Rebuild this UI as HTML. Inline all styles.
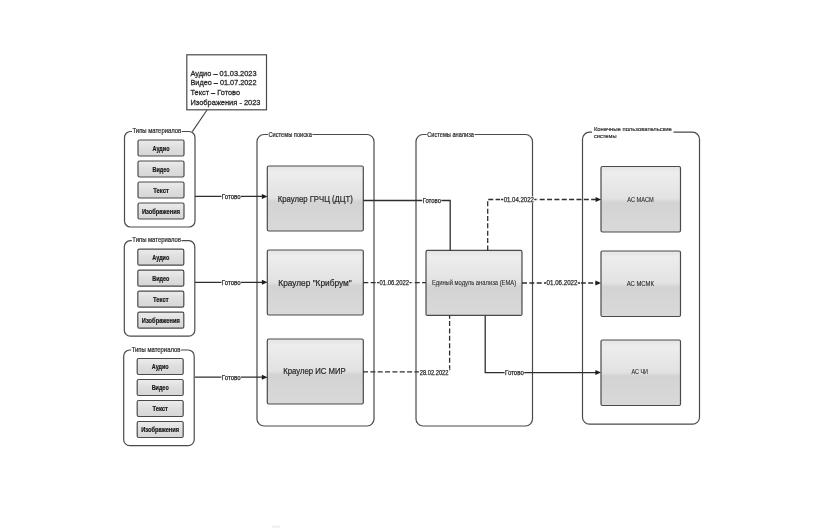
<!DOCTYPE html>
<html><head><meta charset="utf-8"><style>
html,body{margin:0;padding:0;background:#fff;width:830px;height:532px;overflow:hidden}
svg{display:block;font-family:"Liberation Sans", sans-serif;will-change:transform}
</style></head><body>
<svg width="830" height="532" viewBox="0 0 830 532">
<defs>
<linearGradient id="gb" x1="0" y1="0" x2="0" y2="1">
<stop offset="0" stop-color="#e4e4e4"/>
<stop offset="0.1" stop-color="#ededed"/>
<stop offset="0.49" stop-color="#e2e2e2"/>
<stop offset="0.55" stop-color="#d3d3d3"/>
<stop offset="1" stop-color="#d9d9d9"/>
</linearGradient>
<linearGradient id="gs" x1="0" y1="0" x2="0" y2="1">
<stop offset="0" stop-color="#ececec"/>
<stop offset="0.5" stop-color="#dedede"/>
<stop offset="1" stop-color="#d6d6d6"/>
</linearGradient>
</defs>
<rect x="186.8" y="54.8" width="79.7" height="55" rx="0" fill="#fff" stroke="#4a4a4a" stroke-width="1.2"/>
<text x="190.5" y="73.1" font-size="8.0" text-anchor="start" font-weight="normal" fill="#2a2a2a" stroke="#2a2a2a" stroke-width="0.3" dominant-baseline="central" textLength="66" lengthAdjust="spacingAndGlyphs">Аудио – 01.03.2023</text>
<text x="190.5" y="82.85" font-size="8.0" text-anchor="start" font-weight="normal" fill="#2a2a2a" stroke="#2a2a2a" stroke-width="0.3" dominant-baseline="central" textLength="66" lengthAdjust="spacingAndGlyphs">Видео – 01.07.2022</text>
<text x="190.5" y="92.6" font-size="8.0" text-anchor="start" font-weight="normal" fill="#2a2a2a" stroke="#2a2a2a" stroke-width="0.3" dominant-baseline="central" textLength="49.5" lengthAdjust="spacingAndGlyphs">Текст – Готово</text>
<text x="190.5" y="102.35" font-size="8.0" text-anchor="start" font-weight="normal" fill="#2a2a2a" stroke="#2a2a2a" stroke-width="0.3" dominant-baseline="central" textLength="70" lengthAdjust="spacingAndGlyphs">Изображения - 2023</text>
<path d="M207,110 L192.3,131.6" fill="none" stroke="#444" stroke-width="1.1"/>
<rect x="124.5" y="131.5" width="70.5" height="95.5" rx="6" fill="#fff" stroke="#4a4a4a" stroke-width="1.2"/>
<rect x="132.0" y="127.02499999999999" width="49.7" height="7.15" fill="#fff"/>
<text x="132.5" y="130.6" font-size="6.5" text-anchor="start" font-weight="normal" fill="#2a2a2a" stroke="#2a2a2a" stroke-width="0.2" dominant-baseline="central" textLength="48.7" lengthAdjust="spacingAndGlyphs">Типы материалов</text>
<rect x="138.0" y="140.0" width="46" height="16" rx="1.5" fill="url(#gs)" stroke="#4a4a4a" stroke-width="1.2"/>
<text x="161.0" y="148.2" font-size="6.3" text-anchor="middle" font-weight="bold" fill="#1a1a1a" stroke="#1a1a1a" stroke-width="0.2" dominant-baseline="central" textLength="17" lengthAdjust="spacingAndGlyphs">Аудио</text>
<rect x="138.0" y="161.0" width="46" height="16" rx="1.5" fill="url(#gs)" stroke="#4a4a4a" stroke-width="1.2"/>
<text x="161.0" y="169.2" font-size="6.3" text-anchor="middle" font-weight="bold" fill="#1a1a1a" stroke="#1a1a1a" stroke-width="0.2" dominant-baseline="central" textLength="17" lengthAdjust="spacingAndGlyphs">Видео</text>
<rect x="138.0" y="182.0" width="46" height="16" rx="1.5" fill="url(#gs)" stroke="#4a4a4a" stroke-width="1.2"/>
<text x="161.0" y="190.2" font-size="6.3" text-anchor="middle" font-weight="bold" fill="#1a1a1a" stroke="#1a1a1a" stroke-width="0.2" dominant-baseline="central" textLength="15.5" lengthAdjust="spacingAndGlyphs">Текст</text>
<rect x="138.0" y="203.0" width="46" height="16" rx="1.5" fill="url(#gs)" stroke="#4a4a4a" stroke-width="1.2"/>
<text x="161.0" y="211.2" font-size="6.3" text-anchor="middle" font-weight="bold" fill="#1a1a1a" stroke="#1a1a1a" stroke-width="0.2" dominant-baseline="central" textLength="38" lengthAdjust="spacingAndGlyphs">Изображения</text>
<rect x="124.3" y="240.7" width="70.5" height="95.5" rx="6" fill="#fff" stroke="#4a4a4a" stroke-width="1.2"/>
<rect x="131.8" y="236.225" width="49.7" height="7.15" fill="#fff"/>
<text x="132.3" y="239.79999999999998" font-size="6.5" text-anchor="start" font-weight="normal" fill="#2a2a2a" stroke="#2a2a2a" stroke-width="0.2" dominant-baseline="central" textLength="48.7" lengthAdjust="spacingAndGlyphs">Типы материалов</text>
<rect x="137.8" y="249.2" width="46" height="16" rx="1.5" fill="url(#gs)" stroke="#4a4a4a" stroke-width="1.2"/>
<text x="160.8" y="257.4" font-size="6.3" text-anchor="middle" font-weight="bold" fill="#1a1a1a" stroke="#1a1a1a" stroke-width="0.2" dominant-baseline="central" textLength="17" lengthAdjust="spacingAndGlyphs">Аудио</text>
<rect x="137.8" y="270.2" width="46" height="16" rx="1.5" fill="url(#gs)" stroke="#4a4a4a" stroke-width="1.2"/>
<text x="160.8" y="278.4" font-size="6.3" text-anchor="middle" font-weight="bold" fill="#1a1a1a" stroke="#1a1a1a" stroke-width="0.2" dominant-baseline="central" textLength="17" lengthAdjust="spacingAndGlyphs">Видео</text>
<rect x="137.8" y="291.2" width="46" height="16" rx="1.5" fill="url(#gs)" stroke="#4a4a4a" stroke-width="1.2"/>
<text x="160.8" y="299.4" font-size="6.3" text-anchor="middle" font-weight="bold" fill="#1a1a1a" stroke="#1a1a1a" stroke-width="0.2" dominant-baseline="central" textLength="15.5" lengthAdjust="spacingAndGlyphs">Текст</text>
<rect x="137.8" y="312.2" width="46" height="16" rx="1.5" fill="url(#gs)" stroke="#4a4a4a" stroke-width="1.2"/>
<text x="160.8" y="320.4" font-size="6.3" text-anchor="middle" font-weight="bold" fill="#1a1a1a" stroke="#1a1a1a" stroke-width="0.2" dominant-baseline="central" textLength="38" lengthAdjust="spacingAndGlyphs">Изображения</text>
<rect x="123.7" y="350" width="70.5" height="95.7" rx="6" fill="#fff" stroke="#4a4a4a" stroke-width="1.2"/>
<rect x="131.2" y="345.52500000000003" width="49.7" height="7.15" fill="#fff"/>
<text x="131.7" y="349.1" font-size="6.5" text-anchor="start" font-weight="normal" fill="#2a2a2a" stroke="#2a2a2a" stroke-width="0.2" dominant-baseline="central" textLength="48.7" lengthAdjust="spacingAndGlyphs">Типы материалов</text>
<rect x="137.2" y="358.5" width="46" height="16" rx="1.5" fill="url(#gs)" stroke="#4a4a4a" stroke-width="1.2"/>
<text x="160.2" y="366.7" font-size="6.3" text-anchor="middle" font-weight="bold" fill="#1a1a1a" stroke="#1a1a1a" stroke-width="0.2" dominant-baseline="central" textLength="17" lengthAdjust="spacingAndGlyphs">Аудио</text>
<rect x="137.2" y="379.5" width="46" height="16" rx="1.5" fill="url(#gs)" stroke="#4a4a4a" stroke-width="1.2"/>
<text x="160.2" y="387.7" font-size="6.3" text-anchor="middle" font-weight="bold" fill="#1a1a1a" stroke="#1a1a1a" stroke-width="0.2" dominant-baseline="central" textLength="17" lengthAdjust="spacingAndGlyphs">Видео</text>
<rect x="137.2" y="400.5" width="46" height="16" rx="1.5" fill="url(#gs)" stroke="#4a4a4a" stroke-width="1.2"/>
<text x="160.2" y="408.7" font-size="6.3" text-anchor="middle" font-weight="bold" fill="#1a1a1a" stroke="#1a1a1a" stroke-width="0.2" dominant-baseline="central" textLength="15.5" lengthAdjust="spacingAndGlyphs">Текст</text>
<rect x="137.2" y="421.5" width="46" height="16" rx="1.5" fill="url(#gs)" stroke="#4a4a4a" stroke-width="1.2"/>
<text x="160.2" y="429.7" font-size="6.3" text-anchor="middle" font-weight="bold" fill="#1a1a1a" stroke="#1a1a1a" stroke-width="0.2" dominant-baseline="central" textLength="38" lengthAdjust="spacingAndGlyphs">Изображения</text>
<rect x="257" y="134.5" width="117" height="291.5" rx="7" fill="#fff" stroke="#4a4a4a" stroke-width="1.2"/>
<rect x="267.9" y="130.72500000000002" width="44.5" height="7.15" fill="#fff"/>
<text x="268.4" y="134.3" font-size="6.5" text-anchor="start" font-weight="normal" fill="#2a2a2a" stroke="#2a2a2a" stroke-width="0.2" dominant-baseline="central" textLength="43.5" lengthAdjust="spacingAndGlyphs">Системы поиска</text>
<rect x="416" y="134.5" width="116.5" height="291.5" rx="7" fill="#fff" stroke="#4a4a4a" stroke-width="1.2"/>
<rect x="426.7" y="130.925" width="47.8" height="7.15" fill="#fff"/>
<text x="427.2" y="134.5" font-size="6.5" text-anchor="start" font-weight="normal" fill="#2a2a2a" stroke="#2a2a2a" stroke-width="0.2" dominant-baseline="central" textLength="46.8" lengthAdjust="spacingAndGlyphs">Системы анализа</text>
<rect x="582.5" y="132.2" width="117" height="292" rx="7" fill="#fff" stroke="#4a4a4a" stroke-width="1.2"/>
<rect x="592" y="124" width="81.5" height="16" fill="#fff"/>
<text x="593.9" y="128.9" font-size="6.0" text-anchor="start" font-weight="normal" fill="#2a2a2a" stroke="#2a2a2a" stroke-width="0.18" dominant-baseline="central" textLength="78" lengthAdjust="spacingAndGlyphs">Конечные пользовательские</text>
<text x="594" y="136.3" font-size="6.0" text-anchor="start" font-weight="normal" fill="#2a2a2a" stroke="#2a2a2a" stroke-width="0.18" dominant-baseline="central" textLength="22.5" lengthAdjust="spacingAndGlyphs">системы</text>
<rect x="267.3" y="166" width="96" height="65" rx="1.5" fill="url(#gb)" stroke="#4a4a4a" stroke-width="1.2"/>
<rect x="267.3" y="250" width="96" height="65" rx="1.5" fill="url(#gb)" stroke="#4a4a4a" stroke-width="1.2"/>
<rect x="267.3" y="339" width="96" height="65" rx="1.5" fill="url(#gb)" stroke="#4a4a4a" stroke-width="1.2"/>
<rect x="426" y="250.4" width="96" height="65" rx="1.5" fill="url(#gb)" stroke="#4a4a4a" stroke-width="1.2"/>
<rect x="601" y="166.5" width="79.5" height="65.5" rx="1.5" fill="url(#gb)" stroke="#4a4a4a" stroke-width="1.2"/>
<rect x="601" y="251" width="79.5" height="65.5" rx="1.5" fill="url(#gb)" stroke="#4a4a4a" stroke-width="1.2"/>
<rect x="601" y="340" width="79.5" height="65.5" rx="1.5" fill="url(#gb)" stroke="#4a4a4a" stroke-width="1.2"/>
<text x="315.3" y="198.8" font-size="8.5" text-anchor="middle" font-weight="normal" fill="#2a2a2a" stroke="#2a2a2a" stroke-width="0.22" dominant-baseline="central" textLength="75" lengthAdjust="spacingAndGlyphs">Краулер ГРЧЦ (ДЦТ)</text>
<text x="315" y="283" font-size="8.5" text-anchor="middle" font-weight="normal" fill="#2a2a2a" stroke="#2a2a2a" stroke-width="0.22" dominant-baseline="central" textLength="73.4" lengthAdjust="spacingAndGlyphs">Краулер "Крибрум"</text>
<text x="314.5" y="371.4" font-size="8.5" text-anchor="middle" font-weight="normal" fill="#2a2a2a" stroke="#2a2a2a" stroke-width="0.22" dominant-baseline="central" textLength="62.6" lengthAdjust="spacingAndGlyphs">Краулер ИС МИР</text>
<text x="474" y="282.6" font-size="7" text-anchor="middle" font-weight="normal" fill="#2a2a2a" stroke="#2a2a2a" stroke-width="0.08" dominant-baseline="central" textLength="84.2" lengthAdjust="spacingAndGlyphs">Единый модуль анализа (ЕМА)</text>
<text x="640.5" y="199.2" font-size="6.4" text-anchor="middle" font-weight="normal" fill="#2a2a2a" stroke="#2a2a2a" stroke-width="0.1" dominant-baseline="central" textLength="26.3" lengthAdjust="spacingAndGlyphs">АС МАСМ</text>
<text x="640.3" y="283" font-size="6.4" text-anchor="middle" font-weight="normal" fill="#2a2a2a" stroke="#2a2a2a" stroke-width="0.1" dominant-baseline="central" textLength="27.3" lengthAdjust="spacingAndGlyphs">АС МСМК</text>
<text x="639.8" y="371.6" font-size="6.4" text-anchor="middle" font-weight="normal" fill="#2a2a2a" stroke="#2a2a2a" stroke-width="0.1" dominant-baseline="central" textLength="16.4" lengthAdjust="spacingAndGlyphs">АС ЧИ</text>
<path d="M195,196.4 L262,196.4" fill="none" stroke="#2e2e2e" stroke-width="1.3"/>
<path d="M267.5,196.4 L261.9,193.9 L261.9,198.9 Z" fill="#1e1e1e"/>
<rect x="221.39999999999998" y="193.22500000000002" width="19.6" height="7.15" fill="#fff"/>
<text x="231.2" y="196.8" font-size="6.5" text-anchor="middle" font-weight="normal" fill="#2a2a2a" stroke="#2a2a2a" stroke-width="0.25" dominant-baseline="central" textLength="18.8" lengthAdjust="spacingAndGlyphs">Готово</text>
<path d="M195,282.3 L262,282.3" fill="none" stroke="#2e2e2e" stroke-width="1.3"/>
<path d="M267.5,282.3 L261.9,279.8 L261.9,284.8 Z" fill="#1e1e1e"/>
<rect x="221.39999999999998" y="279.125" width="19.6" height="7.15" fill="#fff"/>
<text x="231.2" y="282.7" font-size="6.5" text-anchor="middle" font-weight="normal" fill="#2a2a2a" stroke="#2a2a2a" stroke-width="0.25" dominant-baseline="central" textLength="18.8" lengthAdjust="spacingAndGlyphs">Готово</text>
<path d="M195,377.2 L262,377.2" fill="none" stroke="#2e2e2e" stroke-width="1.3"/>
<path d="M267.5,377.2 L261.9,374.7 L261.9,379.7 Z" fill="#1e1e1e"/>
<rect x="221.39999999999998" y="374.025" width="19.6" height="7.15" fill="#fff"/>
<text x="231.2" y="377.59999999999997" font-size="6.5" text-anchor="middle" font-weight="normal" fill="#2a2a2a" stroke="#2a2a2a" stroke-width="0.25" dominant-baseline="central" textLength="18.8" lengthAdjust="spacingAndGlyphs">Готово</text>
<path d="M363.3,200.5 L450.2,200.5 L450.2,250.4" fill="none" stroke="#2e2e2e" stroke-width="1.3"/>
<rect x="422.25000000000006" y="197.22500000000002" width="19.1" height="7.15" fill="#fff"/>
<text x="431.8" y="200.8" font-size="6.5" text-anchor="middle" font-weight="normal" fill="#2a2a2a" stroke="#2a2a2a" stroke-width="0.25" dominant-baseline="central" textLength="18.3" lengthAdjust="spacingAndGlyphs">Готово</text>
<path d="M487.7,250.4 L487.7,199.5 L596,199.5" fill="none" stroke="#2e2e2e" stroke-width="1.3" stroke-dasharray="5 2.35"/>
<path d="M601.2,199.5 L595.6,197.0 L595.6,202.0 Z" fill="#1e1e1e"/>
<rect x="500.15" y="196.5" width="37.3" height="6" fill="#fff"/>
<path d="M501.04999999999995,199.5 h2.2 M534.3499999999999,199.5 h2.2" stroke="#2e2e2e" stroke-width="1.3"/>
<text x="518.8" y="199.3" font-size="7" text-anchor="middle" font-weight="normal" fill="#2a2a2a" stroke="#2a2a2a" stroke-width="0.25" dominant-baseline="central" textLength="30.3" lengthAdjust="spacingAndGlyphs">01.04.2022</text>
<path d="M363.3,282.6 L426,282.6" fill="none" stroke="#2e2e2e" stroke-width="1.3" stroke-dasharray="5 2.35"/>
<rect x="376.1" y="279.6" width="36.4" height="6" fill="#fff"/>
<path d="M377.0,282.6 h2.2 M409.4,282.6 h2.2" stroke="#2e2e2e" stroke-width="1.3"/>
<text x="394.3" y="282.3" font-size="7" text-anchor="middle" font-weight="normal" fill="#2a2a2a" stroke="#2a2a2a" stroke-width="0.25" dominant-baseline="central" textLength="29.4" lengthAdjust="spacingAndGlyphs">01.06.2022</text>
<path d="M522,283 L596,283" fill="none" stroke="#2e2e2e" stroke-width="1.3" stroke-dasharray="5 2.35"/>
<path d="M601,283 L595.4,280.5 L595.4,285.5 Z" fill="#1e1e1e"/>
<rect x="543.05" y="280" width="37.9" height="6" fill="#fff"/>
<path d="M543.9499999999999,283 h2.2 M577.85,283 h2.2" stroke="#2e2e2e" stroke-width="1.3"/>
<text x="562" y="282.8" font-size="7" text-anchor="middle" font-weight="normal" fill="#2a2a2a" stroke="#2a2a2a" stroke-width="0.25" dominant-baseline="central" textLength="30.9" lengthAdjust="spacingAndGlyphs">01.06.2022</text>
<path d="M363,371.8 L449.6,371.8 L449.6,315.4" fill="none" stroke="#2e2e2e" stroke-width="1.3" stroke-dasharray="5 2.35"/>
<rect x="418.90000000000003" y="368.15" width="30.400000000000002" height="7.700000000000001" fill="#fff"/>
<text x="434.1" y="372" font-size="7" text-anchor="middle" font-weight="normal" fill="#2a2a2a" stroke="#2a2a2a" stroke-width="0.25" dominant-baseline="central" textLength="28.8" lengthAdjust="spacingAndGlyphs">28.02.2022</text>
<path d="M485.2,315.4 L485.2,372.6 L596,372.6" fill="none" stroke="#2e2e2e" stroke-width="1.3"/>
<path d="M601,372.6 L595.4,370.1 L595.4,375.1 Z" fill="#1e1e1e"/>
<rect x="504.6" y="369.225" width="19.6" height="7.15" fill="#fff"/>
<text x="514.4" y="372.8" font-size="6.5" text-anchor="middle" font-weight="normal" fill="#2a2a2a" stroke="#2a2a2a" stroke-width="0.25" dominant-baseline="central" textLength="18.8" lengthAdjust="spacingAndGlyphs">Готово</text>
<rect x="272" y="525.5" width="8" height="2.5" fill="#f1f1f1"/>
</svg>
</body></html>
